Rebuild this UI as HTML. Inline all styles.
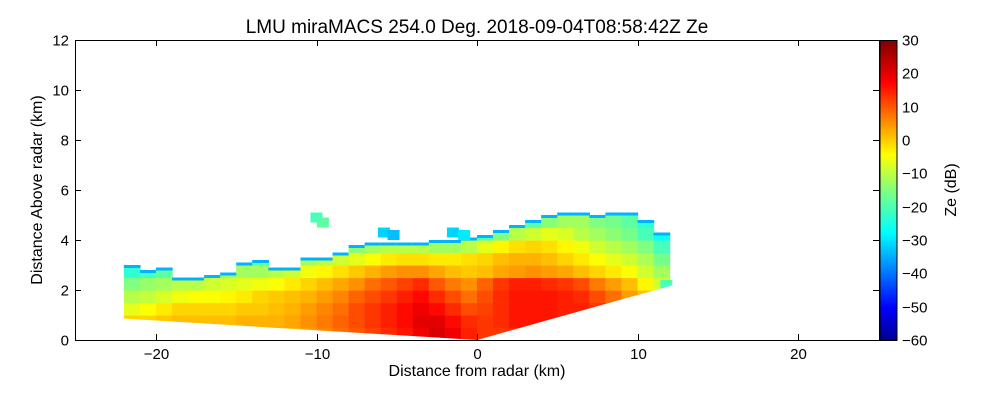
<!DOCTYPE html>
<html><head><meta charset="utf-8"><style>
body{margin:0;background:#fff;}
svg{display:block;font-family:"Liberation Sans","DejaVu Sans",sans-serif;}
</style></head><body>
<svg id="chart" width="1000" height="400" viewBox="0 0 1000 400">
<defs>
<linearGradient id="jet" x1="0" y1="1" x2="0" y2="0">
<stop offset="0" stop-color="#00008f"/><stop offset="0.11" stop-color="#0000ff"/>
<stop offset="0.36" stop-color="#00ffff"/><stop offset="0.5" stop-color="#80ff80"/>
<stop offset="0.62" stop-color="#ffff00"/><stop offset="0.86" stop-color="#ff0000"/>
<stop offset="1" stop-color="#800000"/></linearGradient>
<clipPath id="groundClip"><polygon id="gpoly"/></clipPath>
</defs>
<text x="477" y="33" font-size="19" text-anchor="middle">LMU miraMACS 254.0 Deg. 2018-09-04T08:58:42Z  Ze</text>
<g id="cells" clip-path="url(#groundClip)"></g>
<rect x="75.5" y="40.5" width="804" height="300" fill="none" stroke="#000"/>
<g id="axes"></g>
<rect x="880" y="40.5" width="17" height="300" fill="url(#jet)" stroke="#000"/>
<text x="477" y="376" font-size="16" text-anchor="middle">Distance from radar (km)</text>
<text transform="translate(42,190) rotate(-90)" font-size="16" text-anchor="middle">Distance Above radar  (km)</text>
<text transform="translate(956,190) rotate(-90)" font-size="16" text-anchor="middle">Ze (dB)</text>
</svg>
<script>
const colX = [-21.5,-20.5,-19.5,-18.5,-17.5,-16.5,-15.5,-14.5,-13.5,-12.5,-11.5,-10.5,-9.5,-8.5,-7.5,-6.5,-5.5,-4.5,-3.5,-2.5,-1.5,-0.5,0.5,1.5,2.5,3.5,4.5,5.5,6.5,7.5,8.5,9.5,10.5,11.5];
const topH = [3.0,2.8,2.9,2.5,2.5,2.6,2.7,3.1,3.2,2.9,2.9,3.3,3.3,3.5,3.8,3.9,3.9,3.9,3.9,4.0,4.0,4.1,4.2,4.4,4.6,4.8,5.0,5.1,5.1,5.0,5.1,5.1,4.8,4.3];
const zeRows = [
[3,3,3,3,3,3,3,3,3,3,3,5,7,9,11,13,15,17,20,22,20,16,14,14,15,15,15,15,15,15,15,15,12,8],
[0,0,1,2,2,2,2,3,3,3,4,6,8,10,12,14,16,18,21,21,18,15,14,15,17,17,17,17,16,16,14,12,9,6],
[-6,-4,-2,0,0,0,0,1,1,2,3,5,7,9,12,14,16,18,20,18,15,12,13,15,17,17,17,16,16,14,12,9,5,2],
[-10,-9,-7,-5,-4,-4,-3,-2,0,1,2,3,5,7,10,12,14,16,18,15,12,9,12,15,17,17,17,16,15,12,9,5,2,-3],
[-15,-13,-12,-10,-10,-8,-7,-6,-5,-4,-2,0,2,4,6,9,11,13,15,11,8,6,10,14,16,16,15,14,12,8,5,2,-3,-8],
[-22,-20,-18,-16,-16,-14,-13,-12,-12,-10,-8,-5,-3,-1,1,3,5,6,6,4,2,1,2,4,5,6,5,4,2,0,-2,-4,-8,-12],
[-26,-25,-24,-24,-24,-22,-20,-20,-18,-16,-14,-12,-10,-8,-6,-4,-2,-1,-1,-2,-2,-1,0,2,3,3,2,0,-2,-4,-6,-8,-11,-16],
[-30,-30,-30,-30,-30,-30,-30,-30,-30,-30,-30,-25,-20,-17,-14,-12,-10,-10,-10,-12,-12,-10,-6,-3,-1,0,-1,-3,-5,-8,-10,-12,-15,-20],
[-30,-30,-30,-30,-30,-30,-30,-30,-30,-30,-30,-30,-30,-28,-25,-22,-20,-20,-20,-22,-22,-20,-20,-15,-10,-8,-6,-7,-10,-12,-14,-16,-20,-25],
[-30,-30,-30,-30,-30,-30,-30,-30,-30,-30,-30,-30,-30,-30,-30,-30,-30,-30,-30,-30,-30,-30,-30,-28,-22,-18,-14,-12,-12,-15,-16,-18,-22,-28],
[-30,-30,-30,-30,-30,-30,-30,-30,-30,-30,-30,-30,-30,-30,-30,-30,-30,-30,-30,-30,-30,-30,-30,-30,-30,-30,-24,-20,-20,-20,-22,-22,-25,-30]
];
const rowH = 0.5;
const patchX = [-10.0,-9.6,-5.8,-5.2,-1.5,-0.8,11.8];
const patchY = [4.9,4.7,4.3,4.2,4.3,4.2,2.2];
const patchZe = [-20,-18,-30,-32,-30,-28,-20];
const xTicks = [-20,-10,0,10,20];
const yTicks = [0,2,4,6,8,10,12];
const cbTicks = [30,20,10,0,-10,-20,-30,-40,-50,-60];
const NS='http://www.w3.org/2000/svg';
const X = v => 477 + v*16.05;
const Y = v => 340 - v*25;
const CB = v => 340 - (v+60)/90*300;
const ground = x => x<0 ? -x*0.039 : x*0.18;
function jet(v){
  const t=Math.max(0,Math.min(1,(v+60)/90));
  const f=c=>Math.round(255*Math.max(0,Math.min(1,1.5-Math.abs(4*t-c))));
  return `rgb(${f(3)},${f(2)},${f(1)})`;
}
document.getElementById('gpoly').setAttribute('points',
  [[-25,12],[-25,ground(-25)],[0,0],[25,ground(25)],[25,12]].map(p=>X(p[0])+','+Y(p[1])).join(' '));
const g=document.getElementById('cells');
const cw=16.05;
colX.forEach((cx,i)=>{
  zeRows.forEach((row,r)=>{
    const y0=r*rowH, y1=Math.min((r+1)*rowH, topH[i]);
    if(y1<=y0) return;
    const rc=document.createElementNS(NS,'rect');
    
    
    rc.setAttribute('x',X(cx)-cw/2);rc.setAttribute('width',cw+0.6);
    rc.setAttribute('y',Y(y1));rc.setAttribute('height',(y1-y0)*25+0.6);
    rc.setAttribute('fill',jet(row[i]));
    g.appendChild(rc);
  });
  const e=document.createElementNS(NS,'rect');
  
  
  e.setAttribute('x',X(cx)-cw/2);e.setAttribute('width',cw+0.6);
  e.setAttribute('y',Y(topH[i]));e.setAttribute('height',3);
  e.setAttribute('fill',jet(-33));
  g.appendChild(e);
});
patchX.forEach((px,i)=>{
  const rc=document.createElementNS(NS,'rect');
  
  
  rc.setAttribute('x',X(px)-6);rc.setAttribute('width',12);
  rc.setAttribute('y',Y(patchY[i])-5);rc.setAttribute('height',10);
  rc.setAttribute('fill',jet(patchZe[i]));
  g.appendChild(rc);
});
const ax=document.getElementById('axes');
function line(x1,y1,x2,y2,name){
  const l=document.createElementNS(NS,'line');
  
  
  l.setAttribute('x1',x1);l.setAttribute('y1',y1);l.setAttribute('x2',x2);l.setAttribute('y2',y2);
  l.setAttribute('stroke','#000');ax.appendChild(l);
}
function text(x,y,s,anchor,name){
  const t=document.createElementNS(NS,'text');
  
  
  t.setAttribute('x',x);t.setAttribute('y',y);t.setAttribute('font-size','15');
  t.setAttribute('text-anchor',anchor);t.textContent=s;ax.appendChild(t);
}
xTicks.forEach(v=>{const x=Math.round(X(v))+0.5;
  line(x,340,x,334,'x-tick');line(x,40,x,46,'x-tick-top');
  text(x,359,String(v).replace('-','\u2212'),'middle','x-tick-label');});
yTicks.forEach(v=>{const y=Math.round(Y(v))+0.5;
  line(75,y,81,y,'y-tick');line(879,y,873,y,'y-tick-right');
  text(69,y+5,String(v),'end','y-tick-label');});
cbTicks.forEach(v=>{const y=Math.round(CB(v))+0.5;
  line(897,y,892,y,'colorbar-tick');
  text(902,y+5,String(v).replace('-','\u2212'),'start','colorbar-tick-label');});
</script>
</body></html>
